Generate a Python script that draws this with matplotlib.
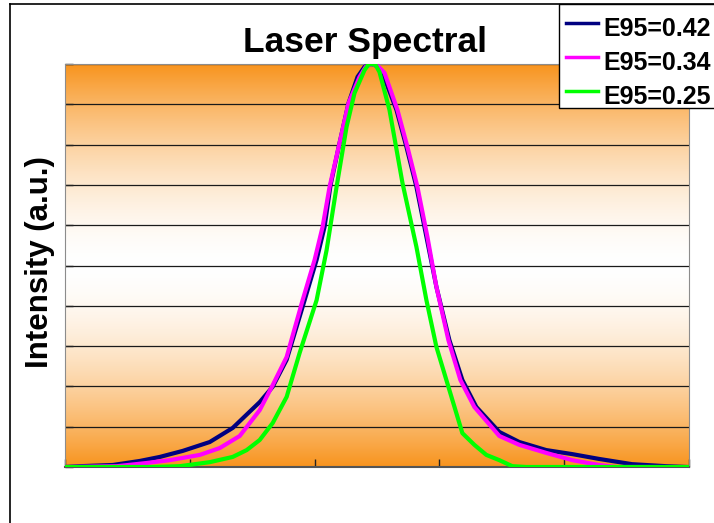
import matplotlib
matplotlib.use('Agg')
import matplotlib.pyplot as plt
import numpy as np
from matplotlib.lines import Line2D
from matplotlib.patches import Rectangle
from matplotlib.transforms import Bbox, TransformedBbox

plt.rcParams['font.family'] = ['Liberation Sans', 'DejaVu Sans']

# spectra, arbitrary x units (5 divisions) and normalised intensity
x_042 = [0.0, 0.12, 0.384, 0.6, 0.76, 0.944, 1.16, 1.344, 1.56, 1.664, 1.776, 1.92,
         2.016, 2.08, 2.128, 2.2, 2.272, 2.344, 2.40, 2.456, 2.50, 2.544, 2.656,
         2.736, 2.816, 2.896, 2.976, 3.08, 3.184, 3.296, 3.48, 3.64, 3.856, 4.064,
         4.28, 4.544, 4.816, 4.984]
y_042 = [0.0, 0.002, 0.005, 0.015, 0.025, 0.040, 0.062, 0.097, 0.161, 0.199, 0.266,
         0.414, 0.514, 0.596, 0.700, 0.804, 0.903, 0.968, 0.993, 1.0, 0.995, 0.978,
         0.886, 0.794, 0.695, 0.571, 0.447, 0.315, 0.216, 0.149, 0.087, 0.062, 0.042,
         0.032, 0.020, 0.007, 0.002, 0.0]

x_034 = [0.0, 0.416, 0.656, 0.84, 1.08, 1.24, 1.4, 1.56, 1.664, 1.776, 1.904, 2.0,
         2.064, 2.12, 2.2, 2.272, 2.36, 2.41, 2.456, 2.51, 2.56, 2.664, 2.744, 2.824,
         2.904, 2.976, 3.072, 3.168, 3.28, 3.48, 3.64, 3.856, 4.064, 4.28, 4.416,
         4.984]
y_034 = [0.0, 0.002, 0.010, 0.017, 0.030, 0.047, 0.077, 0.141, 0.203, 0.273, 0.414,
         0.514, 0.596, 0.695, 0.804, 0.903, 0.968, 0.993, 1.0, 0.994, 0.978, 0.886,
         0.794, 0.695, 0.571, 0.447, 0.315, 0.216, 0.149, 0.077, 0.055, 0.035, 0.017,
         0.005, 0.0, 0.0]

x_025 = [0.0, 0.704, 0.92, 1.16, 1.344, 1.456, 1.56, 1.664, 1.776, 1.88, 2.016,
         2.096, 2.176, 2.256, 2.32, 2.4, 2.43, 2.456, 2.49, 2.52, 2.6, 2.704, 2.816,
         2.896, 2.976, 3.08, 3.184, 3.28, 3.376, 3.48, 3.584, 3.696, 4.984]
y_025 = [0.0, 0.0, 0.002, 0.012, 0.025, 0.042, 0.067, 0.109, 0.174, 0.283, 0.414,
         0.538, 0.695, 0.844, 0.928, 0.985, 0.998, 1.0, 0.997, 0.980, 0.886, 0.705,
         0.546, 0.414, 0.298, 0.191, 0.084, 0.055, 0.030, 0.017, 0.002, 0.0, 0.0]

labels = ['E95=0.42', 'E95=0.34', 'E95=0.25']
colors = ['#000080', '#FF00FF', '#00FF00']

W, H = 714.0, 523.0
fig = plt.figure(figsize=(7.14, 5.23), dpi=100)
ax = fig.add_axes([65/W, 1-467/H, 624/W, 403/H])

# orange -> white -> orange background
orange = np.array([248, 148, 30]) / 255.0
t = np.linspace(0, 1, 256)
w = np.abs(2*t - 1)**1.7
bg = (1 - w[:, None]) * 1.0 + w[:, None] * orange
ax.imshow(bg[:, None, :], extent=[0, 5, 0, 1], aspect='auto', origin='lower',
          zorder=0, interpolation='bilinear')

for yy in np.arange(0.1, 1.01, 0.1):
    ax.axhline(yy, color='#1a1a1a', lw=0.9, zorder=1)

ax.plot(x_042, y_042, color=colors[0], lw=3, zorder=3)
ax.plot(x_034, y_034, color=colors[1], lw=3, zorder=4)
ax.plot(x_025, y_025, color=colors[2], lw=3, zorder=5)

ax.set_xlim(0, 5)
ax.set_ylim(0, 1)
ax.set_xticks(np.arange(0, 5.01, 1))
ax.set_yticks(np.arange(0, 1.01, 0.1))
ax.tick_params(direction='in', length=6, width=1, color='#222222',
               labelbottom=False, labelleft=False)
for s in ['left', 'right', 'top']:
    ax.spines[s].set_color('#8c8c8c')
ax.spines['bottom'].set_color('#555555')
ax.spines['bottom'].set_linewidth(1.5)

fig.text(365/W, 1-52/H, 'Laser Spectral', fontsize=25.5, fontweight='bold',
         ha='center', va='baseline')
fig.text(40/W, 1-262/H, 'Intensity (a.u.)', fontsize=22.5, fontweight='bold',
         rotation=90, ha='center', va='center')

# frame around the whole chart
fig.add_artist(Line2D([10/W, 10/W], [0, 1-4/H], color='black', lw=1.2))
fig.add_artist(Line2D([10/W, 1], [1-4/H, 1-4/H], color='black', lw=1.2))

# legend box, cut off at the right edge and bottom
lx0, ly0, lx1, ly1 = 559/W, 1-108/H, 1.0 + 5/W, 1-4/H
fig.add_artist(Rectangle((lx0, ly0), lx1-lx0, ly1-ly0, transform=fig.transFigure,
                         facecolor='white', edgecolor='black', lw=1.0, zorder=10))
clip = TransformedBbox(Bbox([[lx0, ly0], [lx1, ly1]]), fig.transFigure)
for i, (lab, c) in enumerate(zip(labels, colors)):
    ly = 23 + 34*i
    fig.add_artist(Line2D([566/W, 598/W], [1-ly/H, 1-ly/H], color=c, lw=2.5,
                          zorder=11))
    txt = fig.text(603/W, 1-(ly+6)/H, lab, fontsize=18, fontweight='bold',
                   ha='left', va='center', zorder=11)
    txt.set_clip_box(clip)
    txt.set_clip_on(True)

fig.savefig('out.png', dpi=100)
